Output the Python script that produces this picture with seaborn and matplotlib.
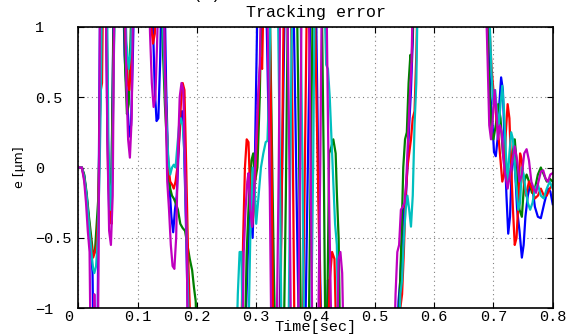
import matplotlib
matplotlib.use("Agg")
import matplotlib.pyplot as plt
import matplotlib.transforms as mtransforms
import seaborn as sns
import pandas as pd

# ---------------- data (time [s], error [um]) ----------------
blue_pts = [(0,0),(0.006,0),(0.010,-0.06),(0.014,-0.2),(0.018,-0.38),(0.021,-0.55),(0.024,-0.75),(0.026,-1.4),(0.032,-1.4),
    (0.035,0.2),(0.037,1.4),(0.046,1.4),(0.049,0.3),(0.052,-0.3),(0.055,-0.37),(0.058,0.6),(0.060,1.4),(0.075,1.4),
    (0.078,0.8),(0.082,0.5),(0.086,0.22),(0.089,0.3),(0.092,0.8),(0.095,1.4),(0.122,1.4),(0.126,1.0),(0.129,0.55),
    (0.132,0.33),(0.135,0.35),(0.138,0.75),(0.141,1.4),(0.145,1.4),(0.148,0.6),(0.151,0.1),(0.154,-0.15),(0.157,-0.35),
    (0.160,-0.46),(0.163,-0.3),(0.166,-0.2),(0.169,0.1),(0.172,0.35),(0.175,0.4),(0.178,0.2),(0.181,-0.3),(0.184,-0.9),
    (0.187,-1.4),(0.268,-1.4),(0.280,-1.4),(0.286,-0.6),(0.290,-0.3),(0.294,-0.5),(0.298,0.1),(0.303,1.4),(0.316,1.4),
    (0.321,0.3),(0.326,-0.6),(0.330,-1.4),(0.338,-1.4),(0.342,-0.5),(0.346,0.6),(0.349,1.4),(0.362,1.4),(0.366,0.4),
    (0.370,-0.7),(0.373,-1.4),(0.382,-1.4),(0.386,-0.3),(0.390,0.8),(0.393,1.4),(0.400,1.4),(0.404,0.2),(0.408,-0.8),
    (0.411,-1.4),(0.418,-1.4),(0.421,-0.8),(0.424,-0.9),(0.427,-1.4),(0.536,-1.4),(0.540,-0.95),(0.543,-0.8),
    (0.546,-0.5),(0.549,-0.3),(0.552,-0.25),(0.555,0.0),(0.558,0.3),(0.561,0.55),(0.564,0.9),(0.567,1.4),(0.688,1.4),
    (0.692,0.9),(0.695,0.5),(0.698,0.35),(0.701,0.11),(0.704,0.08),(0.707,0.2),(0.710,0.45),(0.713,0.64),(0.716,0.55),
    (0.719,0.15),(0.722,-0.2),(0.725,-0.47),(0.728,-0.35),(0.731,0.0),(0.734,0.1),(0.737,-0.05),(0.740,-0.3),
    (0.744,-0.45),(0.748,-0.64),(0.751,-0.55),(0.754,-0.35),(0.758,-0.2),(0.762,-0.12),(0.766,-0.15),(0.770,-0.28),
    (0.775,-0.35),(0.780,-0.36),(0.786,-0.25),(0.792,-0.15),(0.796,-0.17),(0.800,-0.26)]

green_pts = [(0,0),(0.006,0),(0.010,-0.05),(0.014,-0.18),(0.018,-0.35),(0.022,-0.5),(0.025,-0.62),(0.028,-0.6),
    (0.031,-0.4),(0.034,-0.2),(0.037,0.6),(0.039,1.4),(0.047,1.4),(0.050,0.2),(0.053,-0.25),(0.056,-0.1),(0.059,0.9),
    (0.062,1.4),(0.076,1.4),(0.079,0.7),(0.082,0.38),(0.085,0.45),(0.088,0.9),(0.091,1.4),(0.140,1.4),(0.143,0.8),
    (0.146,0.45),(0.149,0.2),(0.152,-0.05),(0.155,-0.15),(0.158,-0.2),(0.161,-0.22),(0.164,-0.25),(0.168,-0.3),
    (0.172,-0.4),(0.176,-0.43),(0.180,-0.45),(0.184,-0.55),(0.188,-0.65),(0.192,-0.73),(0.195,-0.85),(0.198,-0.95),
    (0.201,-1.4),(0.272,-1.4),(0.280,-1.4),(0.284,-0.6),(0.288,-0.2),(0.292,0.05),(0.295,0.1),(0.298,-0.1),
    (0.302,0.0),(0.306,0.5),(0.310,1.4),(0.322,1.4),(0.326,0.3),(0.330,-0.8),(0.333,-1.4),(0.346,-1.4),(0.350,-0.2),
    (0.354,1.4),(0.368,1.4),(0.372,0.2),(0.376,-1.4),(0.388,-1.4),(0.392,0.0),(0.396,1.4),(0.410,1.4),(0.414,0.0),
    (0.417,-1.4),(0.420,-1.0),(0.423,0.1),(0.427,0.15),(0.430,0.2),(0.434,0.1),(0.436,-0.18),(0.439,-0.5),(0.442,-1.4),
    (0.538,-1.4),(0.542,-0.9),(0.545,-0.5),(0.548,0.0),(0.551,0.2),(0.554,0.25),(0.557,0.6),(0.560,0.8),(0.562,0.75),
    (0.565,1.1),(0.568,1.4),(0.688,1.4),(0.691,0.8),(0.694,0.5),(0.697,0.25),(0.700,0.2),(0.704,0.3),(0.708,0.45),
    (0.712,0.35),(0.716,0.1),(0.720,0.0),(0.724,-0.1),(0.728,-0.05),(0.732,0.1),(0.736,0.2),(0.740,0.0),(0.744,-0.3),
    (0.748,-0.35),(0.752,-0.1),(0.756,-0.05),(0.760,-0.1),(0.765,-0.18),(0.770,-0.15),(0.775,-0.05),(0.780,0.0),
    (0.785,-0.05),(0.790,-0.1),(0.795,-0.08),(0.800,-0.1)]

red_pts = [(0,0),(0.006,0),(0.010,-0.08),(0.014,-0.22),(0.018,-0.4),(0.022,-0.55),(0.025,-0.64),(0.028,-0.6),
    (0.031,-0.55),(0.034,-0.3),(0.036,0.3),(0.038,0.55),(0.040,0.6),(0.042,1.4),(0.047,1.4),(0.050,0.0),(0.053,-0.3),
    (0.056,-0.4),(0.059,0.6),(0.062,1.4),(0.076,1.4),(0.080,0.9),(0.083,0.6),(0.086,0.55),(0.089,0.75),(0.092,1.4),
    (0.120,1.4),(0.123,1.0),(0.126,0.88),(0.129,0.95),(0.132,1.4),(0.143,1.4),(0.146,0.7),(0.149,0.3),(0.152,0.0),
    (0.155,-0.1),(0.158,-0.12),(0.161,-0.15),(0.164,-0.1),(0.167,0.0),(0.170,0.2),(0.173,0.45),(0.176,0.6),
    (0.179,0.55),(0.182,0.0),(0.185,-0.6),(0.188,-1.0),(0.191,-1.4),(0.274,-1.4),(0.278,-0.5),(0.281,0.0),
    (0.284,0.2),(0.287,0.18),(0.290,-0.2),(0.293,-0.42),(0.296,-0.3),(0.300,0.1),(0.304,0.5),(0.307,0.78),
    (0.310,0.7),(0.313,1.4),(0.322,1.4),(0.326,0.0),(0.329,-1.4),(0.340,-1.4),(0.344,0.2),(0.347,1.4),(0.358,1.4),
    (0.362,0.0),(0.365,-1.4),(0.378,-1.4),(0.382,0.0),(0.386,1.4),(0.398,1.4),(0.402,0.4),(0.406,-0.5),(0.410,-1.4),
    (0.420,-1.4),(0.424,-0.8),(0.428,-0.6),(0.432,-0.65),(0.436,-1.4),(0.540,-1.4),(0.543,-1.0),(0.546,-0.9),
    (0.549,-0.6),(0.552,-0.2),(0.555,0.0),(0.558,0.1),(0.561,0.2),(0.564,0.35),(0.567,0.4),(0.570,0.8),(0.573,1.4),
    (0.690,1.4),(0.694,0.95),(0.697,0.7),(0.700,0.55),(0.703,0.45),(0.706,0.3),(0.709,0.2),(0.712,0.05),(0.715,-0.1),
    (0.718,-0.05),(0.721,0.25),(0.724,0.45),(0.727,0.35),(0.730,0.0),(0.733,-0.3),(0.736,-0.55),(0.739,-0.5),
    (0.742,-0.25),(0.745,0.1),(0.748,0.05),(0.751,-0.1),(0.755,-0.2),(0.760,-0.1),(0.765,-0.15),(0.770,-0.22),
    (0.775,-0.2),(0.780,-0.15),(0.785,-0.2),(0.790,-0.2),(0.795,-0.15),(0.800,-0.12)]

cyan_pts = [(0,0),(0.006,0),(0.010,-0.07),(0.014,-0.2),(0.018,-0.4),(0.022,-0.6),(0.025,-0.72),(0.027,-0.75),
    (0.030,-0.7),(0.033,-0.5),(0.036,0.0),(0.038,0.5),(0.040,1.4),(0.048,1.4),(0.051,0.1),(0.054,-0.3),(0.057,-0.1),
    (0.060,0.8),(0.063,1.4),(0.078,1.4),(0.081,0.9),(0.085,0.7),(0.089,0.85),(0.092,1.4),(0.140,1.4),(0.143,1.0),
    (0.146,0.6),(0.149,0.3),(0.152,0.05),(0.155,-0.05),(0.158,0.0),(0.161,0.02),(0.164,0.0),(0.167,0.15),(0.170,0.3),
    (0.173,0.35),(0.176,0.3),(0.179,0.1),(0.182,-0.4),(0.185,-0.9),(0.188,-1.4),(0.266,-1.4),(0.269,-0.9),
    (0.272,-0.6),(0.275,-0.6),(0.278,-1.4),(0.286,-1.4),(0.290,-0.5),(0.294,0.0),(0.297,-0.1),(0.300,-0.4),
    (0.304,-0.2),(0.308,0.0),(0.312,0.1),(0.316,0.18),(0.319,0.19),(0.322,0.6),(0.325,1.4),(0.336,1.4),(0.340,0.0),
    (0.343,-1.4),(0.354,-1.4),(0.358,0.2),(0.361,1.4),(0.374,1.4),(0.378,0.0),(0.381,-1.4),(0.392,-1.4),(0.396,0.0),
    (0.399,1.4),(0.414,1.4),(0.418,0.73),(0.421,0.7),(0.424,0.5),(0.427,0.2),(0.430,-0.1),(0.433,-0.4),(0.436,-0.55),
    (0.439,-1.4),(0.540,-1.4),(0.543,-0.9),(0.546,-0.8),(0.549,-0.5),(0.552,-0.3),(0.555,-0.2),(0.558,-0.3),
    (0.561,-0.42),(0.564,-0.2),(0.567,0.3),(0.570,0.6),(0.573,1.4),(0.690,1.4),(0.694,1.0),(0.697,0.65),(0.700,0.45),
    (0.703,0.55),(0.706,0.4),(0.709,0.3),(0.712,0.45),(0.715,0.58),(0.718,0.4),(0.721,0.1),(0.724,-0.1),(0.727,0.1),
    (0.730,0.25),(0.733,0.2),(0.736,0.0),(0.739,-0.15),(0.742,-0.3),(0.745,-0.25),(0.748,0.0),(0.751,-0.05),
    (0.754,-0.15),(0.758,-0.25),(0.762,-0.3),(0.766,-0.25),(0.770,-0.15),(0.775,-0.12),(0.780,-0.2),(0.785,-0.22),
    (0.790,-0.15),(0.795,-0.1),(0.800,-0.15)]

magenta_pts = [(0,0),(0.006,0),(0.010,-0.1),(0.013,-0.25),(0.016,-0.45),(0.019,-0.6),(0.021,-1.4),(0.025,-1.4),
    (0.027,-0.9),(0.030,-1.4),(0.033,-1.4),(0.035,0.0),(0.037,1.4),(0.046,1.4),(0.049,0.2),(0.052,-0.45),
    (0.055,-0.55),(0.058,-0.2),(0.061,1.4),(0.078,1.4),(0.081,0.6),(0.084,0.2),(0.087,0.07),(0.090,0.35),(0.093,1.4),
    (0.118,1.4),(0.121,0.95),(0.124,0.6),(0.127,0.43),(0.130,0.5),(0.133,0.9),(0.136,1.4),(0.143,1.4),(0.147,0.5),
    (0.150,-0.1),(0.153,-0.3),(0.156,-0.55),(0.159,-0.7),(0.162,-0.72),(0.165,-0.5),(0.168,0.1),(0.171,0.5),
    (0.174,0.6),(0.177,0.55),(0.180,0.0),(0.183,-0.6),(0.185,-1.4),(0.270,-1.4),(0.276,-1.4),(0.279,-0.6),
    (0.282,-0.3),(0.285,-0.1),(0.287,-0.04),(0.290,-0.3),(0.293,-0.42),(0.296,-0.2),(0.300,0.2),(0.303,0.5),
    (0.306,0.72),(0.309,1.4),(0.318,1.4),(0.322,0.2),(0.326,-1.4),(0.334,-1.4),(0.338,0.0),(0.341,1.4),(0.352,1.4),
    (0.356,0.0),(0.359,-1.4),(0.370,-1.4),(0.374,0.0),(0.377,1.4),(0.388,1.4),(0.392,0.0),(0.395,-1.4),(0.404,-1.4),
    (0.408,0.0),(0.411,1.4),(0.418,1.4),(0.422,0.0),(0.426,-1.0),(0.430,-1.4),(0.436,-1.4),(0.439,-0.65),
    (0.442,-0.6),(0.445,-0.75),(0.448,-1.4),(0.532,-1.4),(0.535,-0.9),(0.538,-0.6),(0.541,-0.55),(0.544,-0.3),
    (0.547,-0.28),(0.550,-0.25),(0.553,-0.1),(0.556,0.2),(0.559,0.5),(0.562,0.75),(0.565,1.4),(0.686,1.4),(0.690,0.8),
    (0.693,0.3),(0.696,0.2),(0.699,0.35),(0.702,0.55),(0.705,0.4),(0.708,0.2),(0.711,0.3),(0.714,0.25),(0.717,0.05),
    (0.720,-0.05),(0.724,-0.15),(0.728,-0.05),(0.732,0.05),(0.736,0.15),(0.740,0.05),(0.744,-0.1),(0.748,-0.05),
    (0.752,0.1),(0.756,0.13),(0.760,0.05),(0.764,-0.1),(0.768,-0.15),(0.772,-0.18),(0.776,-0.1),(0.780,-0.03),
    (0.784,-0.02),(0.788,-0.08),(0.792,-0.1),(0.796,-0.05),(0.800,-0.04)]

series_names = ["blue", "green", "red", "cyan", "magenta"]
series_pts = [blue_pts, green_pts, red_pts, cyan_pts, magenta_pts]
series_colors = ["#0000ff", "#008000", "#ff0000", "#00bfbf", "#bf00bf"]

x_ticks = [0, 0.1, 0.2, 0.3, 0.4, 0.5, 0.6, 0.7, 0.8]
x_tick_labels = ["0", "0.1", "0.2", "0.3", "0.4", "0.5", "0.6", "0.7", "0.8"]
y_ticks = [-1, -0.5, 0, 0.5, 1]
y_tick_labels = ["\u22121", "\u22120.5", "0", "0.5", "1"]

# ---------------- figure ----------------
mono = "Liberation Mono"
fs = 11
fig = plt.figure(figsize=(5.78, 3.34), dpi=100)
ax_left, ax_bottom_px, ax_top_px, ax_right_px = 78.3, 308.3, 26.7, 552.7
ax = fig.add_axes([ax_left / 578, 1 - ax_bottom_px / 334, (ax_right_px - ax_left) / 578,
                   (ax_bottom_px - ax_top_px) / 334])

frames = []
for name, pts in zip(series_names, series_pts):
    df = pd.DataFrame(pts, columns=["t", "e"])
    df["s"] = name
    frames.append(df)
data = pd.concat(frames, ignore_index=True)

sns.lineplot(data=data, x="t", y="e", hue="s", hue_order=series_names,
             palette=dict(zip(series_names, series_colors)), estimator=None,
             sort=False, linewidth=1.6, legend=False, ax=ax)

ax.set_xlim(0, 0.8)
ax.set_ylim(-1, 1)
ax.set_xticks(x_ticks)
ax.set_xticklabels(x_tick_labels, fontfamily=mono, fontsize=fs)
ax.set_yticks(y_ticks)
ax.set_yticklabels(y_tick_labels, fontfamily=mono, fontsize=fs)
ax.grid(True, linestyle=(0, (1, 3)), color="#808080", linewidth=0.8)
ax.tick_params(direction="in", length=4, width=0.8, top=True, right=True)
ax.tick_params(axis="x", pad=1.5)
ax.tick_params(axis="y", pad=0)
for sp in ax.spines.values():
    sp.set_linewidth(1.2)
    sp.set_color("black")

# y tick labels: left aligned at about x = 35 px
shift_y = mtransforms.ScaledTranslation(-(ax_left - 35) / 100, 0, fig.dpi_scale_trans)
for lab in ax.get_yticklabels():
    lab.set_horizontalalignment("left")
    lab.set_transform(lab.get_transform() + shift_y)
# first x tick label sits slightly left of the axis
shift_x0 = mtransforms.ScaledTranslation(-10 / 100, 0, fig.dpi_scale_trans)
xl0 = ax.get_xticklabels()[0]
xl0.set_transform(xl0.get_transform() + shift_x0)

ax.set_xlabel("Time[sec]", fontfamily=mono, fontsize=fs, va="top")
ax.xaxis.set_label_coords(0.5, -(320 - ax_bottom_px) / (ax_bottom_px - ax_top_px))
ax.set_ylabel("e [\u03bcm]", fontfamily="DejaVu Sans", fontsize=9, va="center")
ax.yaxis.set_label_coords(-(ax_left - 19) / (ax_right_px - ax_left), 0.5)
ax.set_title("Tracking error", fontfamily=mono, fontsize=fs + 1, pad=7)
fig.text(0.358, 1 + 1.5 / 334, "(a)", fontfamily=mono, fontsize=fs + 0.5, ha="center", va="baseline")

fig.savefig("out.png", dpi=100)
